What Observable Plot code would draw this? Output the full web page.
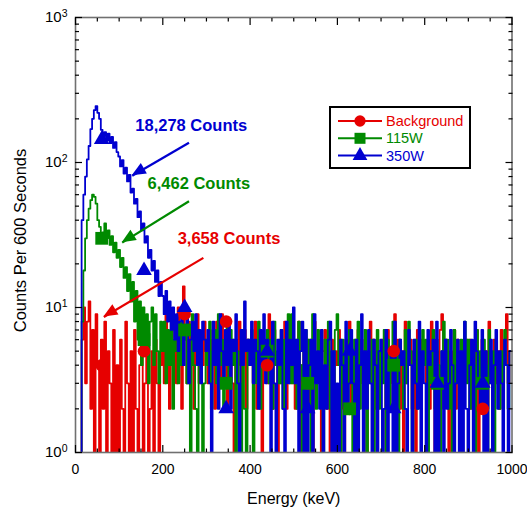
<!DOCTYPE html>
<html><head><meta charset="utf-8">
<script src="https://cdn.jsdelivr.net/npm/d3@7"></script>
<script src="https://cdn.jsdelivr.net/npm/@observablehq/plot@0.6"></script>
<style>
body{margin:0;background:#fff;}
#wrap{position:relative;width:527px;height:516px;font-family:"Liberation Sans",Arial,sans-serif;}
#legend{position:absolute;left:329px;top:106px;}
</style></head><body><div id="wrap"></div>
<script>
// ---------- data ----------
const binWidth = 4; // keV per plotted channel
const seriesNames = ["Background", "115W", "350W"];
const seriesColors = ["#e60000", "#008a00", "#0000d0"];
const seriesSymbols = ["circle", "square", "triangle"];

const countsBackground = [
0,0,0,0,6,10,3,8,11,2,7,0,9,4,0,6,2,8,0,5,3,0,7,0,4,
0,6,2,0,8,3,0,5,0,7,2,0,4,6,0,3,8,0,2,5,0,6,3,0,4,
7,3,9,5,2,6,4,8,3,10,5,2,14,6,3,8,4,7,2,5,9,3,6,4,8,
5,3,7,4,6,2,8,5,3,9,4,6,2,7,5,3,0,6,4,8,3,5,7,2,6,
4,6,3,8,2,5,7,0,4,6,3,9,5,2,7,4,0,6,3,5,8,2,6,4,3,
6,2,5,8,0,4,7,3,6,2,5,0,8,4,3,6,1,5,7,2,4,0,6,3,5,
4,7,2,5,0,6,3,8,2,5,4,0,7,3,6,2,5,0,4,8,3,6,2,5,4,
3,6,4,0,7,2,5,3,9,4,6,2,5,0,8,3,4,6,2,5,0,7,3,6,4,
5,3,6,2,8,4,0,5,3,7,9,2,6,4,0,5,3,7,2,6,4,0,5,3,6,
4,6,2,5,3,7,0,4,6,3,5,2,8,4,0,6,3,5,2,7,4,6,9,3,5];

const counts115W = [
0,0,0,0,8,18,30,40,48,55,60,58,52,40,36,29,33,38,30,34,27,31,24,28,22,
25,19,22,16,19,13,17,11,15,8,13,6,11,4,10,5,9,3,8,10,4,9,5,3,8,
5,8,3,7,4,9,2,6,5,3,8,4,6,7,3,5,0,9,4,2,0,6,5,0,3,
6,4,8,2,5,7,3,9,4,6,2,5,8,3,7,4,6,0,5,3,0,7,2,0,6,
4,7,0,5,3,8,2,6,4,5,7,3,6,2,8,4,5,3,7,2,6,4,9,3,9,
3,6,2,8,4,0,5,7,3,6,1,9,4,2,7,5,3,0,6,4,8,2,5,3,7,
9,4,0,6,3,5,2,7,4,0,6,3,8,2,5,4,7,1,5,3,6,0,4,7,2,
5,3,7,0,6,2,4,8,3,5,1,6,4,2,7,3,8,5,0,4,6,2,5,3,7,
4,6,0,5,3,7,2,6,4,1,5,8,3,6,2,4,0,7,3,5,2,6,4,8,3,
6,2,5,4,0,7,3,5,2,6,4,1,7,3,5,0,6,4,2,5,3,7,4,2,5];

const counts350W = [
0,0,0,0,40,60,80,105,130,170,200,230,245,220,200,168,152,162,142,158,136,150,126,138,118,
110,94,104,84,92,74,82,62,66,52,56,42,46,34,38,28,31,22,25,18,21,15,18,12,15,
12,9,13,8,11,7,10,6,9,5,8,10,4,7,9,3,6,8,5,9,4,7,3,8,6,
5,7,3,0,8,4,6,2,9,5,3,7,4,8,2,6,5,9,3,0,7,4,11,5,6,
4,8,3,6,5,2,7,4,9,3,6,5,0,8,3,0,6,4,7,2,0,8,3,6,4,
10,3,6,0,5,8,0,7,1,4,6,0,9,3,5,2,7,0,4,2,6,8,1,5,0,
3,0,6,4,0,8,2,3,7,3,0,6,1,4,9,0,5,2,7,3,0,6,4,0,5,
6,0,2,7,0,4,5,1,8,0,3,6,4,5,2,0,7,4,0,6,3,2,8,1,5,
3,0,7,4,5,6,1,8,0,3,5,0,6,2,3,7,4,0,3,6,1,5,0,8,2,
0,4,6,0,8,5,3,2,7,1,5,0,3,6,0,4,7,2,5,3,0,6,4,0,5];

const markerEnergy = [60, 157, 250, 345, 439, 532, 628, 729, 829, 933];
const markerBackground = [4, 5, 9, 8, 4, 3, 2, 5, 3, 2];
const marker115W = [30, 6, 7, 3, 5, 3, 2, 4, 3, 3];
const marker350W = [144, 18, 10, 2, 5, 2, 5, 2, 3, 3];

const annotText = ["18,278 Counts", "6,462 Counts", "3,658 Counts"];
const annotX = [137, 165, 234];
const annotY = [179, 71, 30];
const arrowX1 = [260, 260, 293];
const arrowY1 = [137, 54, 22];
const arrowX2 = [130, 107, 65];
const arrowY2 = [81, 28, 8.6];

const xTicksMajor = [0, 200, 400, 600, 800, 1000];
const xTicksMinor = [50,100,150,250,300,350,450,500,550,650,700,750,850,900,950];
const yTicksMajor = [1, 10, 100, 1000];
const yTicksMinor = [2,3,4,5,6,7,8,9,20,30,40,50,60,70,80,90,200,300,400,500,600,700,800,900];

// ---------- tables ----------
const countArrays = [countsBackground, counts115W, counts350W];
const markerArrays = [markerBackground, marker115W, marker350W];
const lineData = countArrays.map((arr, s) => arr.map((c, i) => ({E: i * binWidth, c: c > 0 ? c : 0.4, s})));
const markerData = markerArrays.map((arr, s) => arr.map((v, i) => ({E: markerEnergy[i], v, s})));
const annots = annotText.map((t, i) => ({t, x: annotX[i], y: annotY[i], color: seriesColors[2 - i]}));
const arrows = arrowX1.map((x1, i) => ({x1, y1: arrowY1[i], x2: arrowX2[i], y2: arrowY2[i], color: seriesColors[2 - i]}));

const symR = {circle: 6.3, square: 7.2, triangle: 5.8};

const marks = [];
lineData.forEach((d, s) => marks.push(Plot.line(d, {x: "E", y: "c", stroke: seriesColors[s], strokeWidth: 1.8, curve: "step", clip: true})));
markerData.forEach((d, s) => marks.push(Plot.dot(d, {x: "E", y: "v", symbol: seriesSymbols[s], fill: seriesColors[s], stroke: "none", r: symR[seriesSymbols[s]]})));
marks.push(Plot.link(arrows, {x1: "x1", y1: "y1", x2: "x2", y2: "y2", stroke: "color", strokeWidth: 2.2}));
marks.push(Plot.text(annots, {x: "x", y: "y", text: "t", fill: "color", fontWeight: "bold", fontSize: 16.5, textAnchor: "start"}));
marks.push(Plot.frame({stroke: "#707070", strokeWidth: 1.6}));
// ticks (inward, mirrored)
for (const anchor of ["bottom", "top"]) {
  marks.push(Plot.axisX({anchor, ticks: xTicksMajor, tickSize: -7, tickFormat: () => "", label: null, strokeWidth: 1.2}));
  marks.push(Plot.axisX({anchor, ticks: xTicksMinor, tickSize: -3.5, tickFormat: () => "", label: null, strokeWidth: 1.2}));
}
for (const anchor of ["left", "right"]) {
  marks.push(Plot.axisY({anchor, ticks: yTicksMajor, tickSize: -7, tickFormat: () => "", label: null, strokeWidth: 1.2}));
  marks.push(Plot.axisY({anchor, ticks: yTicksMinor, tickSize: -4, tickFormat: () => "", label: null, strokeWidth: 1.2}));
}
marks.push(Plot.axisX({anchor: "bottom", ticks: xTicksMajor, tickSize: 0, tickPadding: 12, fontSize: 14, label: null, tickFormat: d => String(d)}));
marks.push(Plot.axisY({anchor: "left", ticks: yTicksMajor, tickSize: 0, tickPadding: 8, fontSize: 15, label: null,
  tickFormat: d => "10^" + Math.round(Math.log10(d))}));
marks.push(Plot.text(["Energy (keV)"], {frameAnchor: "bottom", dy: 51, fontSize: 16, text: d => d}));
marks.push(Plot.text(["Counts Per 600 Seconds"], {frameAnchor: "left", dx: -55, dy: 5.5, rotate: -90, textAnchor: "middle", fontSize: 16.5, text: d => d}));

const plot = Plot.plot({
  width: 527, height: 516,
  marginLeft: 75, marginRight: 15.5, marginTop: 17, marginBottom: 64,
  style: {fontFamily: "'Liberation Sans', Arial, sans-serif", background: "white", color: "black"},
  x: {domain: [0, 1000], label: null},
  y: {type: "log", domain: [1, 1000], label: null},
  marks
});
document.getElementById("wrap").appendChild(plot);

// superscript exponents on y tick labels
d3.select(plot).selectAll("text").each(function () {
  const t = this.textContent;
  if (/^10\^\d$/.test(t)) {
    const [b, e] = t.split("^");
    const s = d3.select(this);
    s.text(b);
    s.append("tspan").attr("dy", "-0.5em").attr("font-size", "10.5px").text(e);
  }
});

// filled arrowheads through Plot's scales
const sx = plot.scale("x"), sy = plot.scale("y");
const fx = d3.scaleLinear(sx.domain, sx.range), fy = d3.scaleLog(sy.domain, sy.range);
const gHead = d3.select(plot).append("g");
arrows.forEach(a => {
  const X1 = fx(a.x1), Y1 = fy(a.y1), X2 = fx(a.x2), Y2 = fy(a.y2);
  const dx = X2 - X1, dy = Y2 - Y1, L = Math.hypot(dx, dy), ux = dx / L, uy = dy / L;
  const hl = 14, hw = 6;
  const bx = X2 - ux * hl, by = Y2 - uy * hl;
  gHead.append("polygon").attr("fill", a.color)
    .attr("points", `${X2},${Y2} ${bx - uy * hw},${by + ux * hw} ${bx + uy * hw},${by - ux * hw}`);
});

// legend
const lg = d3.select("#wrap").append("svg").attr("id", "legend").attr("width", 142).attr("height", 63);
lg.append("rect").attr("x", 1).attr("y", 1).attr("width", 140).attr("height", 61).attr("fill", "white").attr("stroke", "black").attr("stroke-width", 2);
const lgSym = {circle: d3.symbol(d3.symbolCircle, 100), square: d3.symbol(d3.symbolSquare, 121), triangle: d3.symbol(d3.symbolTriangle, 95)};
seriesNames.forEach((n, i) => {
  const y = 15 + i * 17.3;
  lg.append("line").attr("x1", 9).attr("x2", 53).attr("y1", y).attr("y2", y).attr("stroke", seriesColors[i]).attr("stroke-width", 2);
  lg.append("path").attr("d", lgSym[seriesSymbols[i]]()).attr("transform", `translate(31,${y})`).attr("fill", seriesColors[i]);
  lg.append("text").attr("x", 57).attr("y", y).attr("dy", "0.35em").attr("fill", seriesColors[i])
    .attr("font-size", "14.5px").attr("font-family", "'Liberation Sans', Arial, sans-serif").text(n);
});
</script></body></html>
